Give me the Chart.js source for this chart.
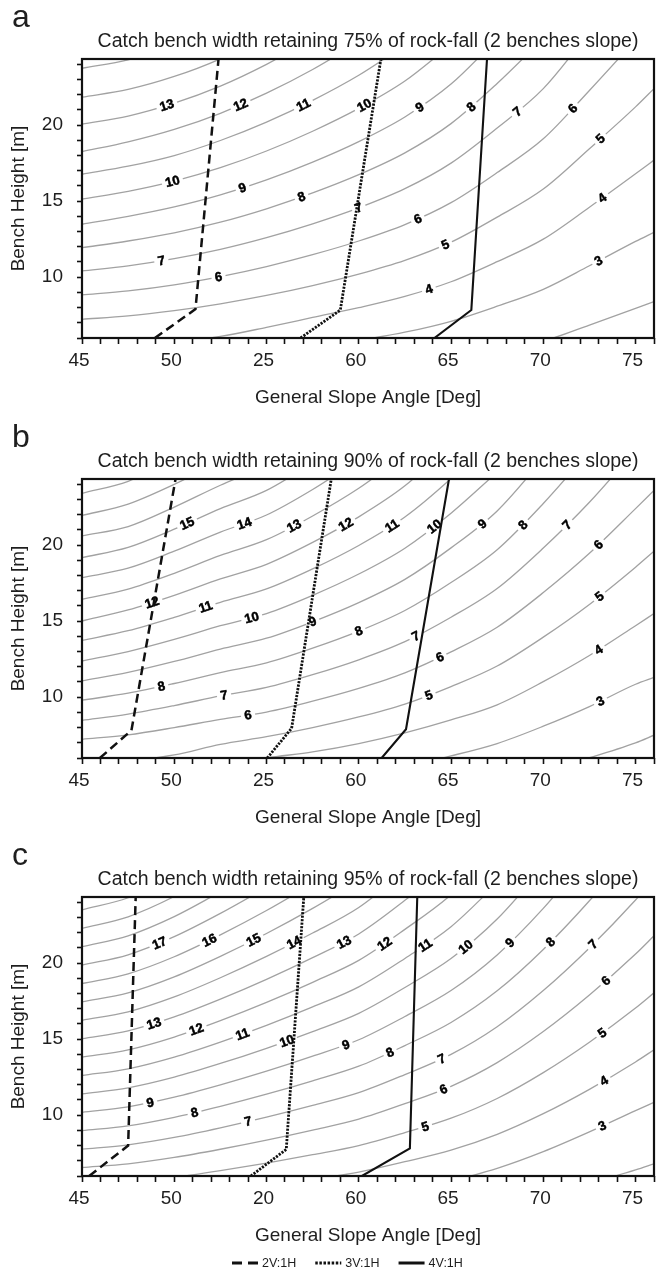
<!DOCTYPE html>
<html>
<head>
<meta charset="utf-8">
<script src="https://cdn.jsdelivr.net/npm/chart.js@4.4.1/dist/chart.umd.min.js"></script>
<style>
  body { margin: 0; background: #fff; width: 659px; height: 1275px; position: relative; overflow: hidden; }
  canvas { position: absolute; left: 0; }
</style>
</head>
<body>
<canvas id="panelA" width="659" height="419" style="top:0px"></canvas>
<canvas id="panelB" width="659" height="419" style="top:420px"></canvas>
<canvas id="panelC" width="659" height="437" style="top:838px"></canvas>
<script>
// slope angles (deg) where the contour heights were read
const slopeGrid = [45, 47.5, 50, 52.5, 55, 57.5, 60, 62.5, 65, 67.5, 70, 72.5, 75, 76];

const xTickValues = [45, 50, 55, 60, 65, 70, 75];
const xTickTextA = ['45', '50', '25', '60', '65', '70', '75'];
const xTickTextB = ['45', '50', '25', '60', '65', '70', '75'];
const xTickTextC = ['45', '50', '20', '60', '65', '70', '75'];
const yTickValues = [10, 15, 20];
const benchNames = ['2V:1H', '3V:1H', '4V:1H'];

// ---- panel a : 75% ----
const titleA = 'Catch bench width retaining 75% of rock-fall (2 benches slope)';
const widthsA = [2, 3, 4, 5, 6, 7, 8, 9, 10, 11, 12, 13, 14, 15];
const heightsA = [
  [null, null, null, null, null, null, null, null, null, 5.16, 5.8, 6.85, 7.95, 8.4],
  [null, null, null, null, null, 5.39, 5.84, 6.38, 7.1, 8.09, 9.2, 10.75, 12.35, 12.95],
  [null, null, 5.7, 6.1, 6.7, 7.35, 8.0, 8.74, 9.7, 11.02, 12.5, 14.6, 16.8, 17.7],
  [7.23, 7.45, 7.8, 8.25, 8.8, 9.45, 10.2, 11.1, 12.3, 13.95, 15.8, 18.45, 21.2, 22.4],
  [8.83, 9.1, 9.5, 10.04, 10.7, 11.48, 12.38, 13.46, 14.9, 16.88, 19.1, 22.28, 25.6, null],
  [10.41, 10.75, 11.22, 11.83, 12.6, 13.51, 14.56, 15.82, 17.5, 19.81, 22.4, 26.1, null, null],
  [11.94, 12.38, 12.92, 13.62, 14.5, 15.54, 16.74, 18.18, 20.1, 22.74, 25.7, null, null, null],
  [13.48, 14.0, 14.62, 15.41, 16.4, 17.57, 18.92, 20.54, 22.7, 25.67, null, null, null, null],
  [15.14, 15.65, 16.32, 17.2, 18.3, 19.6, 21.1, 22.9, 25.3, null, null, null, null, null],
  [16.77, 17.3, 18.0, 18.99, 20.2, 21.63, 23.28, 25.26, null, null, null, null, null, null],
  [18.26, 18.9, 19.72, 20.78, 22.1, 23.66, 25.46, null, null, null, null, null, null, null],
  [20.06, 20.6, 21.45, 22.57, 24.0, 25.69, null, null, null, null, null, null, null, null],
  [21.84, 22.35, 23.2, 24.36, 25.9, null, null, null, null, null, null, null, null, null],
  [23.74, 24.3, 25.2, 26.15, null, null, null, null, null, null, null, null, null, null]
];
const labelSpotsA = [
  [13, 49.6], [12, 53.6], [11, 57.0], [10, 60.3], [9, 63.3], [8, 66.1], [7, 68.6], [6, 71.6],
  [5, 73.1], [4, 73.2], [3, 73.0],
  [10, 49.9], [9, 53.7], [8, 56.9], [7, 60.0], [6, 63.2], [5, 64.7], [4, 63.8],
  [7, 49.3], [6, 52.4]
];
const benchAnglesA = [[48.95, 51.15, 52.4], [56.85, 59.0, 61.2], [64.1, 66.1, 66.95]];
const benchHeightsA = [[6, 7.9, 24.35], [6, 7.84, 24.35], [6, 7.84, 24.35]];

// ---- panel b : 90% ----
const titleB = 'Catch bench width retaining 90% of rock-fall (2 benches slope)';
const widthsB = [2, 3, 4, 5, 6, 7, 8, 9, 10, 11, 12, 13, 14, 15, 16, 17, 18];
const heightsB = [
  [null, null, null, null, null, null, null, null, null, null, 5.16, 6.02, 7.0, 7.5],
  [null, null, null, null, null, null, 4.94, 5.45, 6.14, 6.95, 8.09, 9.38, 10.85, 11.3],
  [null, null, null, 5.46, 6.0, 6.4, 6.95, 7.65, 8.5, 9.5, 11.02, 12.74, 14.7, 15.5],
  [5.5, 5.8, 6.2, 6.9, 7.4, 8.0, 8.7, 9.55, 10.7, 12.05, 13.95, 16.1, 18.55, 19.6],
  [7.23, 7.52, 8.0, 8.54, 9.02, 9.74, 10.58, 11.6, 12.98, 14.6, 16.88, 19.46, 22.4, 23.6],
  [8.48, 8.89, 9.45, 10.08, 10.64, 11.48, 12.46, 13.65, 15.26, 17.15, 19.81, 22.82, 26.25, null],
  [9.8, 10.26, 10.9, 11.62, 12.26, 13.22, 14.34, 15.7, 17.54, 19.7, 22.74, 26.18, null, null],
  [11.07, 11.63, 12.35, 13.16, 13.88, 14.96, 16.22, 17.75, 19.82, 22.25, 25.67, null, null, null],
  [12.38, 13.0, 13.8, 14.7, 15.5, 16.7, 18.1, 19.8, 22.1, 24.8, null, null, null, null],
  [13.74, 14.37, 15.25, 16.24, 17.12, 18.44, 19.98, 21.85, 24.38, 27.35, null, null, null, null],
  [15.01, 15.74, 16.7, 17.78, 18.74, 20.18, 21.86, 23.9, 26.66, null, null, null, null, null],
  [16.44, 17.11, 18.15, 19.32, 20.36, 21.92, 23.74, 25.95, null, null, null, null, null, null],
  [17.86, 18.48, 19.6, 20.86, 21.98, 23.66, 25.62, null, null, null, null, null, null, null],
  [19.18, 19.85, 21.05, 22.4, 23.6, 25.4, null, null, null, null, null, null, null, null],
  [20.61, 21.22, 22.5, 23.94, 25.22, null, null, null, null, null, null, null, null, null],
  [21.95, 22.7, 24.0, 25.5, null, null, null, null, null, null, null, null, null, null],
  [23.4, 24.2, 25.6, null, null, null, null, null, null, null, null, null, null, null]
];
const labelSpotsB = [
  [15, 50.7], [14, 53.8], [13, 56.5], [12, 59.3], [11, 61.8], [10, 64.1], [9, 66.7], [8, 68.9], [7, 71.3],
  [6, 73.0], [5, 73.05], [4, 73.0], [3, 73.1],
  [12, 48.8], [11, 51.7], [10, 54.2], [9, 57.5], [8, 60.0], [7, 63.1], [6, 64.4], [5, 63.8],
  [8, 49.3], [7, 52.7], [6, 54.0]
];
const benchAnglesB = [[45.97, 47.68, 50.07], [55.04, 56.36, 58.51], [61.24, 62.56, 64.89]];
const benchHeightsB = [[6, 7.82, 24.35], [6, 7.95, 24.35], [6, 7.89, 24.35]];

// ---- panel c : 95% ----
const titleC = 'Catch bench width retaining 95% of rock-fall (2 benches slope)';
const widthsC = [2, 3, 4, 5, 6, 7, 8, 9, 10, 11, 12, 13, 14, 15, 16, 17, 18, 19, 20];
const heightsC = [
  [null, null, null, null, null, null, null, null, null, null, null, 5.5, 6.4, 6.8],
  [null, null, null, null, null, null, null, null, 5.65, 6.5, 7.6, 8.9, 10.3, 10.85],
  [null, null, null, null, 5.34, 5.78, 6.26, 6.94, 7.7, 8.74, 10.1, 11.7, 13.5, 14.3],
  [5.35, 5.55, 5.9, 6.35, 6.85, 7.4, 8.0, 8.85, 9.8, 11.1, 12.8, 14.8, 17.05, 18.05],
  [6.56, 6.8, 7.22, 7.76, 8.36, 9.02, 9.74, 10.76, 11.9, 13.46, 15.5, 17.9, 20.6, 21.8],
  [7.77, 8.05, 8.54, 9.17, 9.87, 10.64, 11.48, 12.67, 14.0, 15.82, 18.2, 21.0, 24.15, 25.55],
  [8.98, 9.3, 9.86, 10.58, 11.38, 12.26, 13.22, 14.58, 16.1, 18.18, 20.9, 24.1, 27.7, null],
  [10.19, 10.55, 11.18, 11.99, 12.89, 13.88, 14.96, 16.49, 18.2, 20.54, 23.6, 27.2, null, null],
  [11.4, 11.8, 12.5, 13.4, 14.4, 15.5, 16.7, 18.4, 20.3, 22.9, 26.3, null, null, null],
  [12.61, 13.05, 13.82, 14.81, 15.91, 17.12, 18.44, 20.31, 22.4, 25.26, null, null, null, null],
  [13.82, 14.3, 15.14, 16.22, 17.42, 18.74, 20.18, 22.22, 24.5, 27.62, null, null, null, null],
  [15.03, 15.55, 16.46, 17.63, 18.93, 20.36, 21.92, 24.13, 26.6, null, null, null, null, null],
  [16.24, 16.8, 17.78, 19.04, 20.44, 21.98, 23.66, 26.04, null, null, null, null, null, null],
  [17.45, 18.05, 19.1, 20.45, 21.95, 23.6, 25.4, null, null, null, null, null, null, null],
  [18.66, 19.3, 20.42, 21.86, 23.46, 25.22, null, null, null, null, null, null, null, null],
  [19.87, 20.55, 21.74, 23.27, 24.97, null, null, null, null, null, null, null, null, null],
  [21.08, 21.8, 23.06, 24.68, null, null, null, null, null, null, null, null, null, null],
  [22.29, 23.05, 24.38, 26.1, null, null, null, null, null, null, null, null, null, null],
  [23.5, 24.3, 25.7, null, null, null, null, null, null, null, null, null, null, null]
];
const labelSpotsC = [
  [17, 49.2], [16, 51.9], [15, 54.3], [14, 56.5], [13, 59.2], [12, 61.4], [11, 63.6], [10, 65.8],
  [9, 68.2], [8, 70.4], [7, 72.7],
  [6, 73.4], [5, 73.2], [4, 73.3], [3, 73.2],
  [13, 48.9], [12, 51.2], [11, 53.7], [10, 56.1], [9, 59.3], [8, 61.7], [7, 64.5], [6, 64.6], [5, 63.6],
  [9, 48.7], [8, 51.1], [7, 54.0]
];
const benchAnglesC = [[45.39, 47.5, 47.91], [54.15, 56.07, 57.02], [60.17, 62.77, 63.17]];
const benchHeightsC = [[6, 8.0, 24.35], [6, 7.75, 24.35], [6, 7.82, 24.35]];

const FONT = '"Liberation Sans", Arial, Helvetica, sans-serif';
const INK = '#1e1e1e';
const benchStyles = [
  { dash: [9, 5], width: 2.5 },
  { dash: [2.2, 1.3], width: 2.8 },
  { dash: [], width: 2.1 }
];

// find the drawn (bezier) curve position at a given pixel x
function locateOnCurve(points, px) {
  const pts = points.filter(p => !p.skip);
  for (let i = 0; i < pts.length - 1; i++) {
    const a = pts[i], b = pts[i + 1];
    if (px < a.x || px > b.x) continue;
    const qx = [a.x, a.cp2x ?? a.x, b.cp1x ?? b.x, b.x];
    const qy = [a.y, a.cp2y ?? a.y, b.cp1y ?? b.y, b.y];
    const bez = (q, t) => {
      const u = 1 - t;
      return u * u * u * q[0] + 3 * u * u * t * q[1] + 3 * u * t * t * q[2] + t * t * t * q[3];
    };
    let lo = 0, hi = 1;
    for (let k = 0; k < 40; k++) {
      const mid = (lo + hi) / 2;
      if (bez(qx, mid) < px) lo = mid; else hi = mid;
    }
    const t = (lo + hi) / 2;
    const t0 = Math.max(0, t - 0.02), t1 = Math.min(1, t + 0.02);
    return {
      x: px,
      y: bez(qy, t),
      angle: Math.atan2(bez(qy, t1) - bez(qy, t0), bez(qx, t1) - bez(qx, t0))
    };
  }
  return null;
}

function drawContourLabels(chart, spots) {
  const ctx = chart.ctx;
  const xs = chart.scales.x;
  ctx.save();
  ctx.font = 'bold 13px ' + FONT;
  ctx.textAlign = 'center';
  ctx.textBaseline = 'middle';
  spots.forEach(([w, deg]) => {
    const idx = chart.data.datasets.findIndex(d => d.kind === 'contour' && d.benchWidth === w);
    if (idx < 0) return;
    const hit = locateOnCurve(chart.getDatasetMeta(idx).data, xs.getPixelForValue(deg));
    if (!hit) return;
    const text = String(w);
    const tw = ctx.measureText(text).width;
    ctx.save();
    ctx.translate(hit.x, hit.y);
    ctx.rotate(hit.angle);
    ctx.fillStyle = '#fff';
    ctx.fillRect(-tw / 2 - 3.5, -6.5, tw + 7, 13);
    ctx.fillStyle = '#000';
    ctx.strokeStyle = '#000';
    ctx.lineWidth = 0.5;
    ctx.fillText(text, 0, 0.5);
    ctx.strokeText(text, 0, 0.5);
    ctx.restore();
  });
  ctx.restore();
}

function drawLegend(chart) {
  const ctx = chart.ctx;
  const y = 425;
  let x = 232;
  ctx.save();
  ctx.font = '12.5px ' + FONT;
  ctx.textBaseline = 'middle';
  benchNames.forEach((name, i) => {
    ctx.strokeStyle = '#111';
    ctx.lineWidth = 3;
    ctx.setLineDash(i === 0 ? [10, 6] : i === 1 ? [2.5, 1.6] : []);
    ctx.beginPath();
    ctx.moveTo(x, y);
    ctx.lineTo(x + 26, y);
    ctx.stroke();
    ctx.setLineDash([]);
    ctx.fillStyle = INK;
    ctx.fillText(name, x + 30, y + 0.5);
    x += 30 + ctx.measureText(name).width + 19;
  });
  ctx.restore();
}

function makeDecor(cfg) {
  let labelsDone = false;
  return {
    id: 'decor' + cfg.letter,
    beforeDatasetsDraw() { labelsDone = false; },
    beforeDatasetDraw(chart, args) {
      if (!labelsDone && chart.data.datasets[args.index].kind === 'bench') {
        drawContourLabels(chart, cfg.labelSpots);
        labelsDone = true;
      }
    },
    afterDatasetsDraw(chart) {
      if (!labelsDone) {
        drawContourLabels(chart, cfg.labelSpots);
        labelsDone = true;
      }
      const { ctx, chartArea: a } = chart;
      ctx.save();
      ctx.strokeStyle = '#111';
      ctx.lineWidth = 2.2;
      ctx.strokeRect(a.left, a.top, a.right - a.left, a.bottom - a.top);
      ctx.restore();
    },
    afterDraw(chart) {
      const { ctx, chartArea: a } = chart;
      ctx.save();
      ctx.fillStyle = INK;
      ctx.font = '32px ' + FONT;
      ctx.textBaseline = 'alphabetic';
      ctx.fillText(cfg.letter, 12, 27);
      ctx.font = '19.5px ' + FONT;
      ctx.textAlign = 'center';
      ctx.fillText(cfg.title, (a.left + a.right) / 2, 47);
      ctx.restore();
      if (cfg.legend) drawLegend(chart);
    }
  };
}

function buildPanel(id, cfg) {
  const datasets = [];
  cfg.widths.forEach((w, i) => {
    datasets.push({
      kind: 'contour',
      benchWidth: w,
      data: slopeGrid.map((x, j) => ({ x: x, y: cfg.heights[i][j] })),
      borderColor: '#a2a2a2',
      borderWidth: 1.3,
      pointRadius: 0,
      cubicInterpolationMode: 'monotone',
      capBezierPoints: false,
      order: 1
    });
  });
  benchNames.forEach((name, i) => {
    datasets.push({
      kind: 'bench',
      label: name,
      data: cfg.benchAngles[i].map((x, j) => ({ x: x, y: cfg.benchHeights[i][j] })),
      borderColor: '#111',
      borderWidth: benchStyles[i].width,
      borderDash: benchStyles[i].dash,
      pointRadius: 0,
      tension: 0,
      order: 0
    });
  });

  new Chart(document.getElementById(id), {
    type: 'line',
    data: { datasets: datasets },
    options: {
      responsive: false,
      animation: false,
      events: [],
      layout: { padding: { top: 59, right: 2, left: 0, bottom: cfg.bottomPad } },
      elements: { line: { capBezierPoints: false } },
      plugins: { legend: { display: false }, tooltip: { enabled: false } },
      scales: {
        x: {
          type: 'linear',
          min: 45,
          max: 76,
          afterFit: s => { s.height = 81; },
          grid: { drawOnChartArea: false, drawTicks: true, tickLength: 6, tickColor: '#111', tickWidth: 1.6 },
          border: { display: false },
          ticks: {
            stepSize: 1,
            autoSkip: false,
            maxRotation: 0,
            minRotation: 0,
            padding: 5,
            labelOffset: -3,
            color: INK,
            font: { family: FONT, size: 19 },
            callback: v => {
              const k = xTickValues.indexOf(v);
              return k >= 0 ? cfg.xTickText[k] : '';
            }
          },
          title: {
            display: true,
            text: 'General Slope Angle [Deg]',
            color: INK,
            font: { family: FONT, size: 19 },
            padding: { top: 0, bottom: 10 }
          }
        },
        y: {
          type: 'linear',
          min: 6,
          max: 24.35,
          afterFit: s => { s.width = 82; },
          grid: { drawOnChartArea: false, drawTicks: true, tickLength: 5, tickColor: '#111', tickWidth: 1.6 },
          border: { display: false },
          ticks: {
            stepSize: 1,
            includeBounds: false,
            autoSkip: false,
            padding: 14,
            color: INK,
            font: { family: FONT, size: 19 },
            callback: v => (yTickValues.includes(v) ? String(v) : '')
          },
          title: {
            display: true,
            text: 'Bench Height [m]',
            color: INK,
            font: { family: FONT, size: 19 },
            padding: { top: 7, bottom: 0 }
          }
        }
      }
    },
    plugins: [makeDecor(cfg)]
  });
}

buildPanel('panelA', {
  letter: 'a', title: titleA, widths: widthsA, heights: heightsA, labelSpots: labelSpotsA,
  benchAngles: benchAnglesA, benchHeights: benchHeightsA, xTickText: xTickTextA, bottomPad: 0, legend: false
});
buildPanel('panelB', {
  letter: 'b', title: titleB, widths: widthsB, heights: heightsB, labelSpots: labelSpotsB,
  benchAngles: benchAnglesB, benchHeights: benchHeightsB, xTickText: xTickTextB, bottomPad: 0, legend: false
});
buildPanel('panelC', {
  letter: 'c', title: titleC, widths: widthsC, heights: heightsC, labelSpots: labelSpotsC,
  benchAngles: benchAnglesC, benchHeights: benchHeightsC, xTickText: xTickTextC, bottomPad: 18, legend: true
});
</script>
</body>
</html>
